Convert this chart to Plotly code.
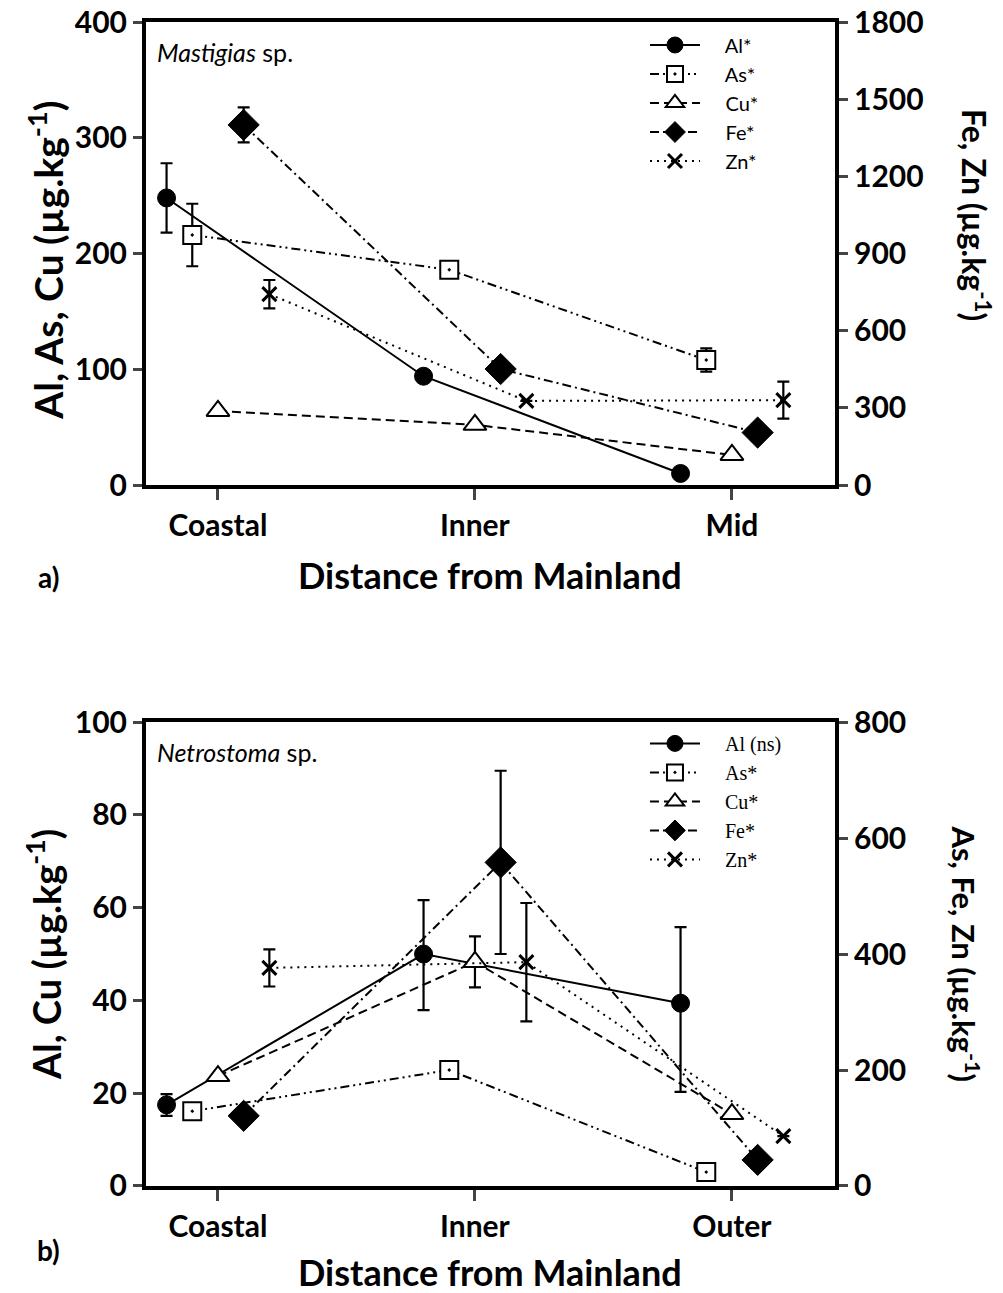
import plotly.graph_objects as go

# ---------------- data ----------------
sites_a = ["Coastal", "Inner", "Mid"]
sites_b = ["Coastal", "Inner", "Outer"]
elements = ["Al", "As", "Cu", "Fe", "Zn"]

# Panel a) Mastigias sp.  (Al, As, Cu left axis; Fe, Zn right axis)
a_al = [248, 94, 10]
a_al_err = [30, None, None]
a_as = [216, 186, 108]
a_as_err = [27, None, 10]
a_cu = [64, 52, 26]
a_cu_err = [None, None, None]
a_fe = [1400, 451, 204]
a_fe_err = [68, None, None]
a_zn = [742, 327, 330]
a_zn_err = [55, None, 72]
a_labels = ["Al*", "As*", "Cu*", "Fe*", "Zn*"]

# Panel b) Netrostoma sp.  (Al, Cu left axis; As, Fe, Zn right axis)
b_al = [17.5, 50, 39.4]
b_al_err_plus = [2.3, 11.6, 16.4]
b_al_err_minus = [2.4, 12.1, 19.1]
b_as = [129, 200, 24]
b_as_err = [None, None, None]
b_cu = [23.7, 48.3, 15.5]
b_cu_err = [None, 5.5, None]
b_fe = [121, 558, 45]
b_fe_err = [None, 158, None]
b_zn = [376, 386, 86]
b_zn_err = [32, 102, None]
b_labels = ["Al (ns)", "As*", "Cu*", "Fe*", "Zn*"]

offsets = [-0.2, -0.1, 0.0, 0.1, 0.2]

styles = {
    "Al": dict(dash="solid", symbol="circle", size=18, fill="black", lw=1),
    "As": dict(dash="9px,4px,2px,4px,2px,4px", symbol="square-dot", size=18, fill="white", lw=2),
    "Cu": dict(dash="9px,5px", symbol="triangle-up", size=20, fill="white", lw=2),
    "Fe": dict(dash="9px,4px,2px,4px", symbol="diamond", size=24, fill="black", lw=1),
    "Zn": dict(dash="2px,5px", symbol="x-thin-open", size=14, fill="black", lw=3),
}

fig = go.Figure()
NB = "\u00a0" * 4


def add(el, vals, err, yaxis, xaxis, label, legend, errminus=None):
    st = styles[el]
    i = elements.index(el)
    xs = [k + offsets[i] for k in range(len(vals))]
    ey = None
    if err is not None:
        ey = dict(type="data", array=err, visible=True, color="black",
                  thickness=2.2, width=6)
        if errminus is not None:
            ey["arrayminus"] = errminus
            ey["symmetric"] = False
    fig.add_trace(go.Scatter(
        x=xs, y=vals, mode="lines+markers", name=NB + label,
        xaxis=xaxis, yaxis=yaxis, legend=legend,
        line=dict(color="black", width=2, dash=st["dash"]),
        marker=dict(symbol=st["symbol"], size=st["size"], color=st["fill"],
                    line=dict(color="black", width=st["lw"])),
        error_y=ey,
    ))


# panel a
add("Al", a_al, a_al_err, "y", "x", a_labels[0], "legend")
add("As", a_as, a_as_err, "y", "x", a_labels[1], "legend")
add("Cu", a_cu, a_cu_err, "y", "x", a_labels[2], "legend")
add("Fe", a_fe, a_fe_err, "y2", "x", a_labels[3], "legend")
add("Zn", a_zn, a_zn_err, "y2", "x", a_labels[4], "legend")
# panel b
add("Al", b_al, b_al_err_plus, "y3", "x2", b_labels[0], "legend2", b_al_err_minus)
add("As", b_as, b_as_err, "y4", "x2", b_labels[1], "legend2")
add("Cu", b_cu, b_cu_err, "y3", "x2", b_labels[2], "legend2")
add("Fe", b_fe, b_fe_err, "y4", "x2", b_labels[3], "legend2")
add("Zn", b_zn, b_zn_err, "y4", "x2", b_labels[4], "legend2")

FONT = "Lato"
tickfont = dict(family=FONT, size=30, color="black", weight="bold")
xr = [-0.280, 2.401]

xcommon = dict(range=xr, tickvals=[0, 1, 2], ticks="outside", ticklen=11, tickwidth=2.5,
               showline=True, linewidth=4, linecolor="black", mirror=True,
               showgrid=False, zeroline=False, tickfont=tickfont, fixedrange=True,
               automargin=False, ticklabeloverflow="allow")
ycommon = dict(ticks="outside", ticklen=9, tickwidth=3, showline=True, linewidth=4,
               linecolor="black", showgrid=False, zeroline=False, tickfont=tickfont,
               automargin=False, ticklabeloverflow="allow")

dom_a = [0.6022, 1.0]
dom_b = [0.0, 0.3986]

fig.update_layout(
    width=995, height=1285,
    margin=dict(l=138, r=168, t=14, b=107, autoexpand=False),
    paper_bgcolor="white", plot_bgcolor="white",
    xaxis=dict(**xcommon, ticktext=sites_a, anchor="y", domain=[0, 1]),
    yaxis=dict(**ycommon, range=[0, 400], tickvals=[0, 100, 200, 300, 400],
               domain=dom_a, anchor="x"),
    yaxis2=dict(**ycommon, range=[0, 1800], tickvals=[0, 300, 600, 900, 1200, 1500, 1800],
                overlaying="y", side="right", anchor="x"),
    xaxis2=dict(**xcommon, ticktext=sites_b, anchor="y3", domain=[0, 1]),
    yaxis3=dict(**ycommon, range=[0, 100], tickvals=[0, 20, 40, 60, 80, 100],
                domain=dom_b, anchor="x2"),
    yaxis4=dict(**ycommon, range=[0, 800], tickvals=[0, 200, 400, 600, 800],
                overlaying="y3", side="right", anchor="x2"),
    legend=dict(x=0.7242, y=0.997, xanchor="left", yanchor="top",
                font=dict(family=FONT, size=20, color="black"),
                bgcolor="rgba(0,0,0,0)", tracegroupgap=0, itemwidth=50),
    legend2=dict(x=0.7242, y=0.397, xanchor="left", yanchor="top",
                 font=dict(family="Liberation Serif", size=20, color="black"),
                 bgcolor="rgba(0,0,0,0)", tracegroupgap=0, itemwidth=50),
    showlegend=True,
)

ann_font_x = dict(family=FONT, size=36, color="black")
annotations = [
    dict(text="<i>Mastigias</i> sp.", x=0.013, y=0.974, xref="paper", yref="paper",
         xanchor="left", yanchor="middle", showarrow=False,
         font=dict(family=FONT, size=25, color="black")),
    dict(text="<i>Netrostoma</i> sp.", x=0.013, y=0.373, xref="paper", yref="paper",
         xanchor="left", yanchor="middle", showarrow=False,
         font=dict(family=FONT, size=25, color="black")),
    dict(text="<b>Al, As, Cu (µg.kg<sup>-1</sup>)</b>", textangle=-90, x=-0.147, y=0.7955,
         xref="paper", yref="paper", xanchor="center", yanchor="middle",
         showarrow=False, font=dict(family=FONT, size=39, color="black")),
    dict(text="<b>Fe, Zn (µg.kg<sup>-1</sup>)</b>", textangle=90, x=1.205, y=0.834,
         xref="paper", yref="paper", xanchor="center", yanchor="middle",
         showarrow=False, font=dict(family=FONT, size=32, color="black")),
    dict(text="<b>Al, Cu (µg.kg<sup>-1</sup>)</b>", textangle=-90, x=-0.147, y=0.199,
         xref="paper", yref="paper", xanchor="center", yanchor="middle",
         showarrow=False, font=dict(family=FONT, size=38, color="black")),
    dict(text="<b>As, Fe, Zn (µg.kg<sup>-1</sup>)</b>", textangle=90, x=1.19, y=0.199,
         xref="paper", yref="paper", xanchor="center", yanchor="middle",
         showarrow=False, font=dict(family=FONT, size=31, color="black")),
    dict(text="<b>Distance from Mainland</b>", x=0.499, y=0.525, xref="paper", yref="paper",
         xanchor="center", yanchor="middle", showarrow=False, font=ann_font_x),
    dict(text="<b>Distance from Mainland</b>", x=0.499, y=-0.0739, xref="paper", yref="paper",
         xanchor="center", yanchor="middle", showarrow=False, font=ann_font_x),
    dict(text="<b>a)</b>", x=-0.142, y=0.523, xref="paper", yref="paper",
         xanchor="center", yanchor="middle", showarrow=False,
         font=dict(family=FONT, size=28, color="black")),
    dict(text="<b>b)</b>", x=-0.142, y=-0.055, xref="paper", yref="paper",
         xanchor="center", yanchor="middle", showarrow=False,
         font=dict(family=FONT, size=28, color="black")),
]
fig.update_layout(annotations=annotations)

fig.write_html("out.html")
